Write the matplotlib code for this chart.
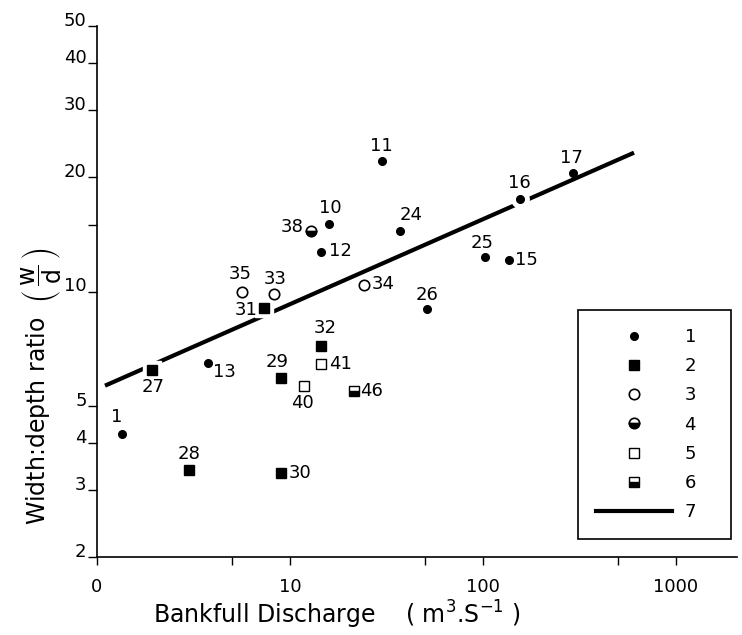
import matplotlib
matplotlib.use('Agg')
import matplotlib.pyplot as plt
from matplotlib.lines import Line2D
from matplotlib.ticker import NullLocator

plt.rcParams['font.family'] = ['DejaVu Sans']
plt.rcParams['mathtext.default'] = 'regular'

# Site data: bankfull discharge (m3/s) and width:depth ratio, by channel group
g1_ids = ['1', '13', '10', '12', '11', '24', '26', '25', '15', '16', '17']
g1_q = [1.34, 3.75, 16.0, 14.5, 30.1, 37.0, 51.1, 102, 137, 155, 294]
g1_wd = [4.22, 6.49, 15.1, 12.7, 22.0, 14.4, 9.02, 12.3, 12.1, 17.5, 20.5]

g2_ids = ['27', '28', '31', '29', '30', '32']
g2_q = [1.92, 3.01, 7.36, 8.95, 8.95, 14.4]
g2_wd = [6.23, 3.38, 9.07, 5.91, 3.33, 7.18]

g3_ids = ['35', '33', '34']
g3_q = [5.62, 8.29, 24.3]
g3_wd = [10.0, 9.82, 10.4]

g4_ids = ['38']
g4_q = [12.8]
g4_wd = [14.4]

g5_ids = ['40', '41']
g5_q = [11.86, 14.4]
g5_wd = [5.65, 6.44]

g6_ids = ['46']
g6_q = [21.5]
g6_wd = [5.46]

# Regression line (group 7) end points
fit_q = [1.1, 606]
fit_wd = [5.65, 23.2]

legend_labels = ['1', '2', '3', '4', '5', '6', '7']

# label offsets in pixels (dx, dy, ha)
offsets = {
    '1': (-5, 17, 'center'), '13': (5, -9, 'left'), '10': (1, 16, 'center'),
    '12': (8, 1, 'left'), '11': (-1, 15, 'center'), '24': (11, 16, 'center'),
    '26': (0, 14, 'center'), '25': (-3, 14, 'center'), '15': (6, 0, 'left'),
    '16': (0, 16, 'center'), '17': (-2, 15, 'center'),
    '27': (1, -17, 'center'), '28': (0, 16, 'center'), '31': (-7, -2, 'right'),
    '29': (-4, 16, 'center'), '30': (8, 0, 'left'), '32': (5, 18, 'center'),
    '35': (-2, 17, 'center'), '33': (1, 15, 'center'), '34': (7, 1, 'left'),
    '38': (-7, 4, 'right'), '40': (-2, -17, 'center'), '41': (8, 0, 'left'),
    '46': (6, 0, 'left'),
}
gap_ids = ['27', '31', '16']

fig = plt.figure(figsize=(7.42, 6.35), dpi=100)
ax = fig.add_axes([97 / 742, 1 - 557 / 635, 640 / 742, 531 / 635])

ax.plot(fit_q, fit_wd, color='black', lw=3, solid_capstyle='butt', zorder=1)

styles = [
    (g1_ids, g1_q, g1_wd, dict(marker='o', ms=5.5, mfc='black', mec='black')),
    (g2_ids, g2_q, g2_wd, dict(marker='s', ms=6.5, mfc='black', mec='black')),
    (g3_ids, g3_q, g3_wd, dict(marker='o', ms=7.5, mfc='white', mec='black', mew=1.2)),
    (g4_ids, g4_q, g4_wd, dict(marker='o', ms=7.5, mfc='black', mec='black', mew=1.2,
                               fillstyle='bottom', markerfacecoloralt='white')),
    (g5_ids, g5_q, g5_wd, dict(marker='s', ms=6.5, mfc='white', mec='black', mew=1.0)),
    (g6_ids, g6_q, g6_wd, dict(marker='s', ms=6.5, mfc='black', mec='black', mew=1.0,
                               fillstyle='bottom', markerfacecoloralt='white')),
]

handles = []
for ids, q, wd, st in styles:
    # white halo breaks the regression line around some markers
    for i, s in enumerate(ids):
        if s in gap_ids:
            ax.plot(q[i], wd[i], marker=st['marker'], ms=st['ms'] + 7,
                    color='white', ls='none', zorder=2)
    ax.plot(q, wd, ls='none', zorder=3, **st)
    for i, s in enumerate(ids):
        dx, dy, ha = offsets[s]
        ax.annotate(s, (q[i], wd[i]), xytext=(dx, dy), textcoords='offset pixels',
                    ha=ha, va='center', fontsize=13)
    handles.append(Line2D([], [], ls='none', **st))
handles.append(Line2D([], [], color='black', lw=3))

ax.set_xscale('log')
ax.set_yscale('log')
ax.set_xlim(1, 2070)
ax.set_ylim(2, 50)

ax.set_xticks([1, 5, 10, 50, 100, 500, 1000])
ax.set_xticklabels(['0', '', '10', '', '100', '', '1000'], fontsize=13)
ax.set_yticks([2, 3, 4, 5, 10, 15, 20, 30, 40, 50])
ax.set_yticklabels(['2', '3', '4', '5', '10', '', '20', '30', '40', '50'], fontsize=13)
ax.xaxis.set_minor_locator(NullLocator())
ax.yaxis.set_minor_locator(NullLocator())
for lab in ax.get_yticklabels():
    lab.set_verticalalignment('baseline')

ax.tick_params(axis='x', direction='out', length=6, width=1, pad=9)
ax.tick_params(axis='y', direction='out', length=6.5, width=1, pad=1)
for side in ['top', 'right']:
    ax.spines[side].set_visible(False)
for side in ['left', 'bottom']:
    ax.spines[side].set_linewidth(1.2)

fig.text(337 / 742, 1 - 615 / 635,
         r'Bankfull Discharge    ( m$^{3}$.S$^{-1}$ )',
         ha='center', va='center', fontsize=17)
fig.text(42 / 742, 1 - 386 / 635,
         r'Width:depth ratio  $\left(\,\dfrac{w}{d}\,\right)$',
         ha='center', va='center', rotation=90, fontsize=17)

leg = ax.legend(handles, [s + '   ' for s in legend_labels], loc='upper left',
                bbox_to_anchor=(578 / 742, 1 - 310 / 635),
                bbox_transform=fig.transFigure, borderaxespad=0,
                frameon=True, fancybox=False,
                edgecolor='black', framealpha=1, handlelength=4.2,
                handletextpad=0.7, labelspacing=0.62, borderpad=1.0,
                fontsize=13)
leg.get_frame().set_linewidth(1.2)

plt.savefig('out.png', dpi=100)
